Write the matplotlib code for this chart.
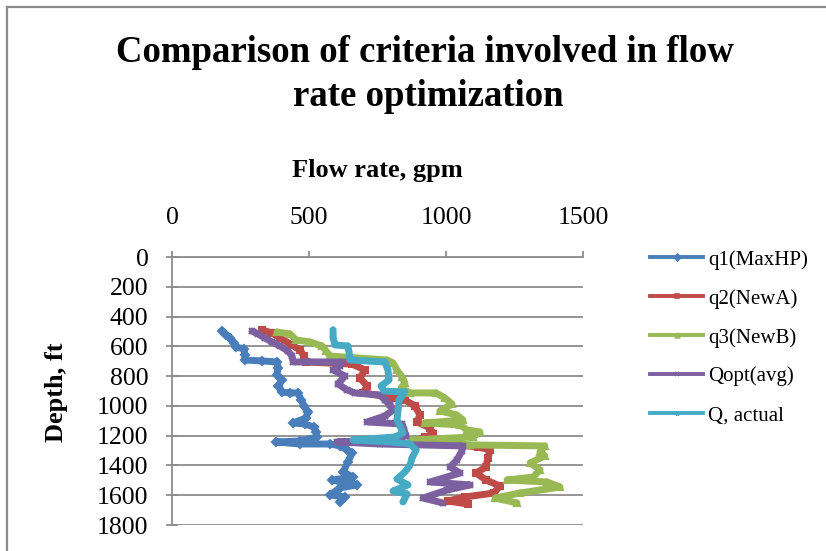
import numpy as np
import matplotlib
matplotlib.use("Agg")
import matplotlib.pyplot as plt
from matplotlib.lines import Line2D

plt.rcParams['font.family'] = ['Liberation Serif', 'DejaVu Serif']

# depth (ft) / flow rate (gpm) pairs for each criterion
q1_depth = [500, 524, 544, 577, 604, 618, 658, 692, 698, 705, 745, 792, 826, 866, 907, 913, 913,
            960, 1000, 1041, 1081, 1115, 1122, 1142, 1175, 1209, 1236, 1242, 1256, 1256, 1269,
            1296, 1316, 1377, 1444, 1478, 1498, 1531, 1551, 1598, 1612, 1645]
q1_flow = [183, 197, 212, 226, 234, 263, 266, 266, 329, 383, 387, 383, 402, 387, 402, 431, 460,
           471, 482, 496, 489, 442, 485, 518, 526, 529, 467, 380, 467, 577, 613,
           639, 657, 642, 624, 661, 584, 675, 613, 577, 631, 613]

q2_depth = [490, 510, 544, 591, 625, 665, 705, 719, 759, 813, 866, 913, 947, 960, 1001, 1061,
            1108, 1148, 1189, 1209, 1236, 1276, 1296, 1350, 1410, 1451, 1498, 1538, 1585,
            1612, 1639, 1659]
q2_flow = [329, 365, 394, 438, 467, 482, 489, 657, 704, 686, 712, 697, 814, 850, 887, 905,
           894, 942, 953, 923, 887, 1117, 1161, 1153, 1146, 1110, 1146, 1197, 1175,
           1069, 1007, 1080]

q3_depth = [504, 517, 557, 571, 598, 631, 665, 692, 712, 759, 806, 846, 880, 913, 913, 947,
            987, 1034, 1061, 1095, 1115, 1128, 1162, 1175, 1209, 1229, 1262, 1269, 1310,
            1336, 1383, 1430, 1478, 1498, 1511, 1545, 1585, 1619, 1652]
q3_flow = [383, 431, 453, 504, 548, 562, 577, 785, 807, 821, 840, 850, 836, 869, 964, 996,
           1022, 978, 1040, 1062, 923, 1051, 1077, 1124, 1099, 869, 1088, 1361, 1343,
           1361, 1307, 1343, 1318, 1223, 1369, 1416, 1270, 1179, 1259]

qopt_depth = [497, 517, 544, 571, 598, 631, 665, 705, 705, 732, 759, 799, 853, 893, 913, 927,
              960, 994, 1028, 1068, 1108, 1122, 1162, 1202, 1229, 1242, 1256, 1269, 1303,
              1363, 1410, 1451, 1511, 1531, 1565, 1619, 1652]
qopt_flow = [292, 314, 339, 365, 394, 423, 438, 442, 624, 613, 588, 631, 606, 639, 668, 759,
             777, 796, 807, 777, 712, 840, 847, 854, 796, 602, 759, 1062, 1058,
             1040, 1015, 1051, 942, 1088, 1004, 916, 989]

qact_depth = [490, 544, 591, 598, 638, 692, 698, 705, 759, 826, 866, 900, 907, 960, 1028, 1095,
              1135, 1182, 1209, 1229, 1242, 1256, 1296, 1350, 1397, 1444, 1491, 1531,
              1572, 1592, 1645]
qact_flow = [588, 588, 595, 642, 646, 650, 704, 777, 788, 792, 763, 774, 850, 829, 825, 821,
             832, 843, 814, 661, 796, 869, 891, 876, 869, 850, 821, 861,
             807, 858, 843]

labels = ['q1(MaxHP)', 'q2(NewA)', 'q3(NewB)', 'Qopt(avg)', 'Q, actual']
colors = ['#4A7EBB', '#BE4B48', '#98B954', '#7D60A0', '#46AAC5']
markers = ['D', 's', '^', 'x', '*']

series = [(q1_flow, q1_depth), (q2_flow, q2_depth), (q3_flow, q3_depth),
          (qopt_flow, qopt_depth), (qact_flow, qact_depth)]

fig = plt.figure(figsize=(8.26, 5.51), dpi=100)
ax = fig.add_axes([172/826, 1-525/551, 411/826, 268/551])

grey = '#8C8C8C'
for (fx, dy), c, m in zip(series, colors, markers):
    ax.plot(fx, dy, color=c, lw=5, marker=m, ms=4, mec=c, mfc=c, mew=1.5,
            solid_joinstyle='round', solid_capstyle='round')

ax.set_xlim(0, 1500)
ax.set_ylim(1800, 0)
ax.set_xticks([0, 500, 1000, 1500])
ax.set_yticks(np.arange(0, 1801, 200))
ax.xaxis.tick_top()
ax.yaxis.grid(True, color=grey, lw=1.3)
ax.set_axisbelow(True)
for s in ['right', 'bottom']:
    ax.spines[s].set_visible(False)
for s in ['top', 'left']:
    ax.spines[s].set_color(grey)
    ax.spines[s].set_linewidth(1.3)
ax.tick_params(axis='x', direction='out', length=4, width=1.3, color=grey, pad=16, labelsize=18.5)
ax.tick_params(axis='y', direction='inout', length=8, width=1.3, color=grey, pad=13, labelsize=18.5)

fig.text(425/826, 1-53/551, 'Comparison of criteria involved in flow', ha='center', va='center',
         fontsize=26.5, fontweight='bold')
fig.text(428/826, 1-96/551, 'rate optimization', ha='center', va='center',
         fontsize=26.5, fontweight='bold')
fig.text(377/826, 1-170/551, 'Flow rate, gpm', ha='center', va='center', fontsize=19, fontweight='bold')
fig.text(57/826, 1-392/551, 'Depth, ft', ha='center', va='center', rotation=90,
         fontsize=19, fontweight='bold')

handles = [Line2D([], [], color=c, lw=2.8, marker=m, ms=3.5, mew=1.2, mec=c, mfc=c)
           for c, m in zip(colors, markers)]
fig.legend(handles, labels, loc='upper left', bbox_to_anchor=(650/826, 1-250/551), frameon=False,
           fontsize=15, handlelength=2.55, handletextpad=0.25, labelspacing=0.92, borderaxespad=0,
           borderpad=0)

# outer chart border
fig.add_artist(Line2D([7/826, 7/826], [0, 1-7/551], color=grey, lw=1.6, transform=fig.transFigure))
fig.add_artist(Line2D([7/826, 1], [1-7/551, 1-7/551], color=grey, lw=1.6, transform=fig.transFigure))

fig.savefig('out.png', dpi=100)
